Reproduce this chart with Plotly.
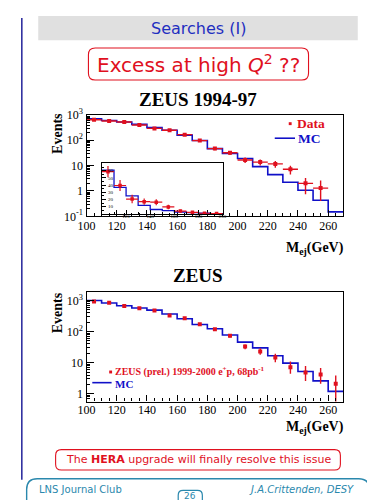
import plotly.graph_objects as go

# ---------------- data ----------------
bin_edges = [100, 110, 120, 130, 140, 150, 160, 170, 180, 190, 200, 210, 220, 230, 240, 250, 260, 270]
bin_halfwidth = 5

# ZEUS 1994-97 (top panel)
top_centers = [105, 115, 125, 135, 145, 155, 165, 175, 185, 195, 205, 215, 225, 235, 245, 255]
top_data = [645, 573, 525, 400, 295, 250, 167, 97, 47, 32, 16.7, 13.8, 11.7, 7.2, 2.0, 1.3]
top_err_up = [25, 24, 23, 20, 17, 16, 13, 10, 7, 5.7, 4.1, 3.7, 3.4, 2.7, 1.25, 1.3]
top_err_dn = [25, 24, 23, 20, 17, 16, 13, 10, 7, 5.7, 4.1, 3.7, 3.4, 2.7, 1.25, 0.9]
top_mc = [700, 600, 525, 425, 316, 250, 160, 98, 47, 30, 19, 9.1, 4.4, 2.2, 1.07, 0.43, 0.15]

# inset (linear scale)
inset_edges = [100, 110, 120, 130, 140, 150, 160, 170, 180, 190, 200]
inset_centers = [105, 115, 125, 135, 145, 155, 165, 175, 185, 195]
inset_data = [58.6, 39.4, 20.6, 17.0, 16.2, 9.6, 3.9, 2.2, 0.9, 0.4]
inset_err = [7.9, 7.6, 6.0, 4.5, 4.2, 3.1, 2.0, 1.5, 1.0, 0.6]
inset_mc = [60.8, 36.8, 25.0, 11.8, 6.1, 4.4, 2.6, 1.75, 0.9, 0.4]

# ZEUS (prel.) 1999-2000 (bottom panel)
bot_centers = [105, 115, 125, 135, 145, 155, 165, 175, 185, 195, 205, 215, 225, 235, 245, 255, 265]
bot_data = [930, 845, 665, 565, 475, 333, 270, 172, 120, 73, 33, 23, 14.6, 7.1, 4.8, 4.2, 2.1]
bot_err_up = [30, 29, 26, 24, 22, 18, 16, 13, 11, 8.5, 5.7, 6.0, 5.0, 3.9, 3.1, 2.6, 1.8]
bot_err_dn = [30, 29, 26, 24, 22, 18, 16, 13, 11, 8.5, 5.7, 5.0, 4.2, 2.7, 2.2, 2.1, 1.6]
bot_mc = [1000, 830, 680, 575, 490, 370, 260, 170, 124, 78, 46, 30, 16.7, 9.7, 5.2, 2.6, 1.2]

x_ticks = [100, 120, 140, 160, 180, 200, 220, 240, 260]
inset_xticks = [100, 120, 140, 160, 180, 200]
inset_yticks = [0, 10, 20, 30, 40, 50, 60]
top_yticks = [0.1, 1, 10, 100, 1000]
top_yticktext = ["10<sup>-1</sup>", "1", "10", "10<sup>2</sup>", "10<sup>3</sup>"]
bot_yticks = [1, 10, 100, 1000]
bot_yticktext = ["1", "10", "10<sup>2</sup>", "10<sup>3</sup>"]

# ---------------- styling ----------------
W, H = 375, 500
RED = "#e0101e"
BLUE = "#1010c8"
TEAL = "#2a88ad"
NAVY = "#23239a"
SERIF = "Liberation Serif"
SANS = "DejaVu Sans"


def X(px):
    return px / W


def Y(py):
    return 1 - py / H


def rr_path(x0, y0, x1, y1, r):
    pts = [("M", [(x0 + r, y0)]), ("L", [(x1 - r, y0)]), ("Q", [(x1, y0), (x1, y0 + r)]),
           ("L", [(x1, y1 - r)]), ("Q", [(x1, y1), (x1 - r, y1)]), ("L", [(x0 + r, y1)]),
           ("Q", [(x0, y1), (x0, y1 - r)]), ("L", [(x0, y0 + r)]), ("Q", [(x0, y0), (x0 + r, y0)])]
    s = ""
    for cmd, ps in pts:
        s += cmd + " " + " ".join(f"{X(a):.5f},{Y(b):.5f}" for a, b in ps) + " "
    return s + "Z"


fig = go.Figure()

# top panel
fig.add_trace(go.Scatter(x=bin_edges, y=top_mc + [top_mc[-1]], mode="lines", line=dict(color=BLUE, width=1.6, shape="hv"),
                         xaxis="x", yaxis="y", showlegend=False))
fig.add_trace(go.Scatter(x=top_centers, y=top_data, mode="markers",
                         marker=dict(symbol="square", size=4, color=RED),
                         error_y=dict(type="data", array=top_err_up, arrayminus=top_err_dn, color=RED, thickness=1.4, width=0),
                         error_x=dict(type="constant", value=bin_halfwidth, color=RED, thickness=1.4, width=0),
                         xaxis="x", yaxis="y", showlegend=False))

# inset
fig.add_trace(go.Scatter(x=inset_edges, y=inset_mc + [inset_mc[-1]], mode="lines", line=dict(color=BLUE, width=1.3, shape="hv"),
                         xaxis="x2", yaxis="y2", showlegend=False))
fig.add_trace(go.Scatter(x=inset_centers, y=inset_data, mode="markers",
                         marker=dict(symbol="square", size=3.5, color=RED),
                         error_y=dict(type="data", array=inset_err, color=RED, thickness=1.2, width=0),
                         error_x=dict(type="constant", value=bin_halfwidth, color=RED, thickness=1.2, width=0),
                         xaxis="x2", yaxis="y2", showlegend=False))

# bottom panel
fig.add_trace(go.Scatter(x=bin_edges, y=bot_mc + [bot_mc[-1]], mode="lines", line=dict(color=BLUE, width=1.6, shape="hv"),
                         xaxis="x3", yaxis="y3", showlegend=False))
fig.add_trace(go.Scatter(x=bot_centers, y=bot_data, mode="markers",
                         marker=dict(symbol="square", size=4, color=RED),
                         error_y=dict(type="data", array=bot_err_up, arrayminus=bot_err_dn, color=RED, thickness=1.4, width=0),
                         xaxis="x3", yaxis="y3", showlegend=False))

tickfont = dict(family=SERIF, size=12, color="black")
axis_common = dict(showline=True, linecolor="black", linewidth=1.3, mirror=True, ticks="inside",
                   tickcolor="black", showgrid=False, zeroline=False, tickfont=tickfont)

top_minor = [m * 10 ** e for e in range(-1, 3) for m in range(2, 10)]
bot_minor = [m * 10 ** e for e in range(-1, 4) for m in range(2, 10)]

fig.update_layout(
    width=W, height=H, autosize=False,
    margin=dict(l=0, r=0, t=0, b=0),
    paper_bgcolor="white", plot_bgcolor="rgba(0,0,0,0)",
    xaxis=dict(domain=[X(72), X(338)], anchor="y", range=[100, 270], tickvals=x_ticks, ticklen=6,
               ticklabelstandoff=-2,
               minor=dict(dtick=5, ticks="inside", ticklen=3, tickcolor="black"), **axis_common),
    yaxis=dict(domain=[Y(206.5), Y(102)], anchor="x", type="log", range=[-1, 3], tickvals=top_yticks,
               ticktext=top_yticktext, ticklen=7,
               minor=dict(tickvals=top_minor, ticks="inside", ticklen=3, tickcolor="black"), **axis_common),
    xaxis2=dict(domain=[X(88), X(213)], anchor="y2", range=[100, 200], tickvals=inset_xticks, ticklen=4,
                ticklabelstandoff=-3,
                minor=dict(dtick=10, ticks="inside", ticklen=2, tickcolor="black"),
                showline=True, linecolor="black", linewidth=1, mirror=True, ticks="inside", tickcolor="black",
                showgrid=False, zeroline=False, tickfont=dict(family=SERIF, size=5, color="black")),
    yaxis2=dict(domain=[Y(204), Y(152)], anchor="x2", range=[0, 70], tickvals=inset_yticks, ticklen=4,
                ticklabelposition="inside",
                minor=dict(dtick=5, ticks="inside", ticklen=2, tickcolor="black"),
                showline=True, linecolor="black", linewidth=1, mirror=True, ticks="inside", tickcolor="black",
                showgrid=False, zeroline=False, tickfont=dict(family=SERIF, size=5, color="black")),
    xaxis3=dict(domain=[X(72), X(338)], anchor="y3", range=[100, 270], tickvals=x_ticks, ticklen=6,
                ticklabelstandoff=-3,
                minor=dict(dtick=5, ticks="inside", ticklen=3, tickcolor="black"), **axis_common),
    yaxis3=dict(domain=[Y(397.5), Y(285)], anchor="x3", type="log", range=[-0.25, 3.26], tickvals=bot_yticks,
                ticktext=bot_yticktext, ticklen=7,
                minor=dict(tickvals=bot_minor, ticks="inside", ticklen=3, tickcolor="black"), **axis_common),
)

shapes = []
# outer slide border
shapes.append(dict(type="line", xref="paper", yref="paper", x0=X(5), x1=X(5), y0=Y(2), y1=Y(478),
                   line=dict(color=NAVY, width=1.5)))
shapes.append(dict(type="line", xref="paper", yref="paper", x0=X(370), x1=X(370), y0=Y(2), y1=Y(478),
                   line=dict(color=NAVY, width=1.5)))
# header band
shapes.append(dict(type="rect", xref="paper", yref="paper", x0=X(22), x1=X(353), y0=Y(0), y1=Y(25),
                   fillcolor="#e0e0e0", line=dict(width=0), layer="below"))
# excess box
shapes.append(dict(type="path", xref="paper", yref="paper", path=rr_path(74, 33, 302, 66, 7),
                   line=dict(color=RED, width=1.1)))
# inset white background
shapes.append(dict(type="rect", xref="paper", yref="paper", x0=X(88), x1=X(213), y0=Y(204), y1=Y(152),
                   fillcolor="white", line=dict(width=0), layer="below"))
# top legend glyphs
shapes.append(dict(type="rect", xref="paper", yref="paper", x0=X(281.5), x1=X(284.5), y0=Y(112.5), y1=Y(109.5),
                   fillcolor=RED, line=dict(width=0)))
shapes.append(dict(type="line", xref="paper", yref="paper", x0=X(267), x1=X(288), y0=Y(126), y1=Y(126),
                   line=dict(color=BLUE, width=1.6)))
# bottom legend glyphs
shapes.append(dict(type="rect", xref="paper", yref="paper", x0=X(95.5), x1=X(98.5), y0=Y(368.5), y1=Y(365.5),
                   fillcolor=RED, line=dict(width=0)))
shapes.append(dict(type="line", xref="paper", yref="paper", x0=X(78), x1=X(98), y0=Y(378), y1=Y(378),
                   line=dict(color=BLUE, width=1.6)))
# HERA box
shapes.append(dict(type="path", xref="paper", yref="paper", path=rr_path(40, 447, 335, 468, 6),
                   line=dict(color=RED, width=1.1)))
# footer box
shapes.append(dict(type="path", xref="paper", yref="paper", path=rr_path(10, 477, 365, 530, 11),
                   line=dict(color=TEAL, width=1.4)))
shapes.append(dict(type="path", xref="paper", yref="paper", path=rr_path(167, 489, 192, 512, 5),
                   line=dict(color=TEAL, width=1.2)))
fig.update_layout(shapes=shapes)


def txt(x, y, s, size, color, family, xanchor="center", angle=0):
    return dict(x=X(x), y=Y(y), xref="paper", yref="paper", text=s, showarrow=False, xanchor=xanchor,
                yanchor="middle", textangle=angle, borderpad=0,
                font=dict(family=family, size=size, color=color))


ann = [
    txt(187.5, 12.5, "Searches (I)", 16, "#1f2fc0", SANS),
    txt(188, 50, "Excess at high <i>Q</i><sup>2</sup> ??", 20, RED, SANS),
    txt(187, 86, "<b>ZEUS 1994-97</b>", 19, "black", SERIF),
    txt(42, 121, "<b>Events</b>", 14, "black", SERIF, angle=-90),
    txt(289, 111, "<b>Data</b>", 13.5, RED, SERIF, xanchor="left"),
    txt(290, 126, "<b>MC</b>", 13.5, BLUE, SERIF, xanchor="left"),
    txt(340, 240, "<b>M<sub>ej</sub>(GeV)</b>", 14, "black", SERIF, xanchor="right"),
    txt(188, 268, "<b>ZEUS</b>", 19, "black", SERIF),
    txt(42, 306, "<b>Events</b>", 14, "black", SERIF, angle=-90),
    txt(101, 367, "<b>ZEUS (prel.) 1999-2000 e<sup>+</sup>p, 68pb<sup>-1</sup></b>", 10, RED, SERIF, xanchor="left"),
    txt(101, 379, "<b>MC</b>", 11, BLUE, SERIF, xanchor="left"),
    txt(340, 424, "<b>M<sub>ej</sub>(GeV)</b>", 14, "black", SERIF, xanchor="right"),
    txt(187.5, 457.5, "The <b>HERA</b> upgrade will finally resolve this issue", 11, RED, SANS),
    txt(22, 488, "LNS Journal Club", 10, TEAL, SANS, xanchor="left"),
    txt(350, 488, "<i>J.A.Crittenden, DESY</i>", 10, TEAL, SANS, xanchor="right"),
    txt(179.5, 495, "26", 9, TEAL, SANS),
]
fig.update_layout(annotations=ann)

fig.write_html("out.html")
